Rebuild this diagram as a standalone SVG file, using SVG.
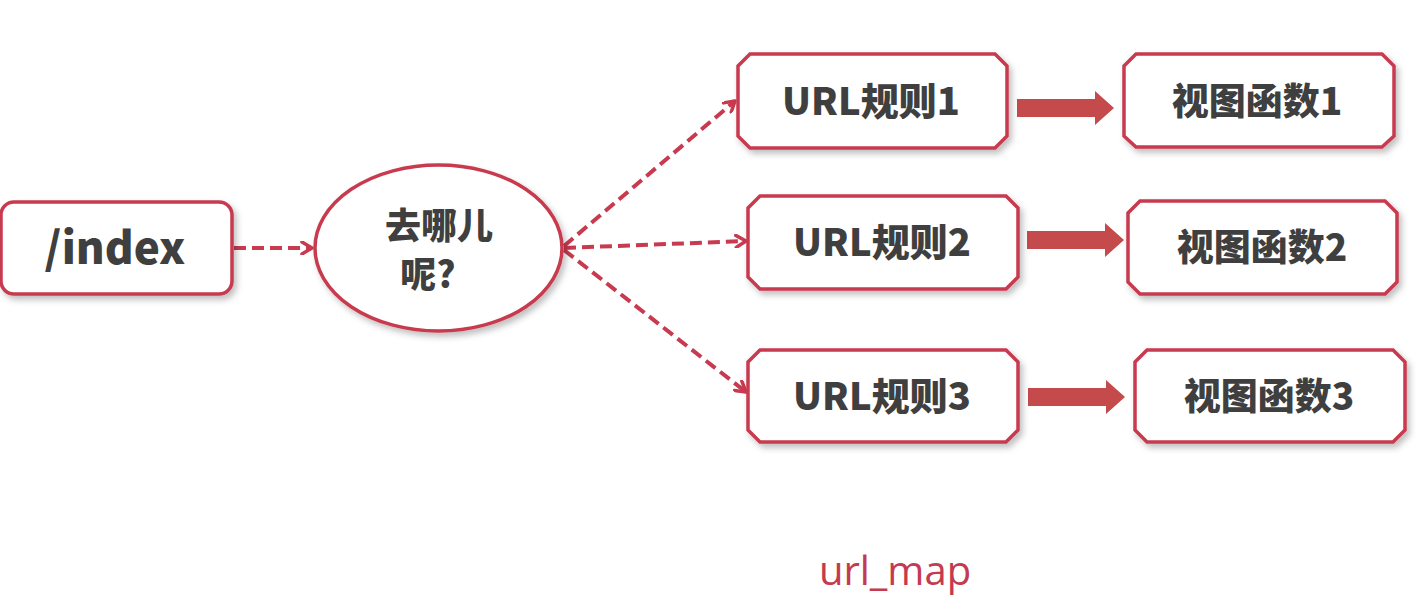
<svg xmlns="http://www.w3.org/2000/svg" width="1425" height="611" viewBox="0 0 1425 611">
<defs>
<filter id="sh" x="-10%" y="-10%" width="125%" height="130%">
<feDropShadow dx="3" dy="4" stdDeviation="3" flood-color="#000" flood-opacity="0.25"/>
</filter>
<marker id="open" viewBox="0 0 14 14" refX="12" refY="7" markerWidth="14" markerHeight="14" markerUnits="userSpaceOnUse" orient="auto">
<path d="M2,1 L12,7 L2,13" fill="none" stroke="#c83a4f" stroke-width="3.5" stroke-linecap="round" stroke-linejoin="round"/>
</marker>
</defs>
<style>
.box{fill:#fff;stroke:#c83a4f;stroke-width:3.5;filter:url(#sh)}
.t{font-family:"Noto Sans CJK SC","Liberation Sans",sans-serif;font-weight:900;fill:#3f3f3f;text-anchor:middle}
.dash{fill:none;stroke:#c83a4f;stroke-width:4;stroke-dasharray:12 6;marker-end:url(#open)}
.big{fill:#c44a4c}
</style>
<rect width="1425" height="611" fill="#fff"/>
<g id="connectors">
<path class="dash" d="M234,248 L312,248"/>
<path class="dash" d="M564,246 L735,101"/>
<path class="dash" d="M564,248 L746,241"/>
<path class="dash" d="M564,250 L746,392"/>
<polygon class="big" points="1017,99 1095,99 1095,91 1114,108 1095,125 1095,117 1017,117"/>
<polygon class="big" points="1027,231 1105,231 1105,223 1124,240 1105,257 1105,249 1027,249"/>
<polygon class="big" points="1028,388 1106,388 1106,380 1125,397 1106,414 1106,406 1028,406"/>
</g>
<g id="n-index">
<rect class="box" x="1" y="202" width="231" height="92" rx="13"/>
<text class="t" x="115" y="264" font-size="44">/index</text>
</g>
<g id="n-where">
<ellipse class="box" cx="438.5" cy="248" rx="123.5" ry="83"/>
<text class="t" x="439" y="239" font-size="36">去哪儿</text>
<text class="t" x="428" y="288" font-size="36">呢?</text>
</g>
<g id="n-url1">
<polygon class="box" points="750,54 995,54 1007,66 1007,136 995,148 750,148 738,136 738,66"/>
<text class="t" x="871" y="115" font-size="38">URL规则1</text>
</g>
<g id="n-view1">
<polygon class="box" points="1136,54 1382,54 1394,66 1394,136 1382,147 1136,147 1124,136 1124,66"/>
<text class="t" x="1257" y="115" font-size="37">视图函数1</text>
</g>
<g id="n-url2">
<polygon class="box" points="760,196 1006,196 1018,208 1018,277 1006,289 760,289 748,277 748,208"/>
<text class="t" x="882" y="256" font-size="38">URL规则2</text>
</g>
<g id="n-view2">
<polygon class="box" points="1140,201 1385,201 1397,213 1397,282 1385,294 1140,294 1128,282 1128,213"/>
<text class="t" x="1262" y="261" font-size="37">视图函数2</text>
</g>
<g id="n-url3">
<polygon class="box" points="760,350 1006,350 1018,362 1018,430 1006,442 760,442 748,430 748,362"/>
<text class="t" x="882" y="410" font-size="38">URL规则3</text>
</g>
<g id="n-view3">
<polygon class="box" points="1147,350 1393,350 1405,362 1405,430 1393,442 1147,442 1135,430 1135,362"/>
<text class="t" x="1269" y="410" font-size="37">视图函数3</text>
</g>
<text x="895" y="585" font-family="'Open Sans','Noto Sans','Liberation Sans',sans-serif" font-size="40" fill="#c43a50" text-anchor="middle">url_map</text>
</svg>
